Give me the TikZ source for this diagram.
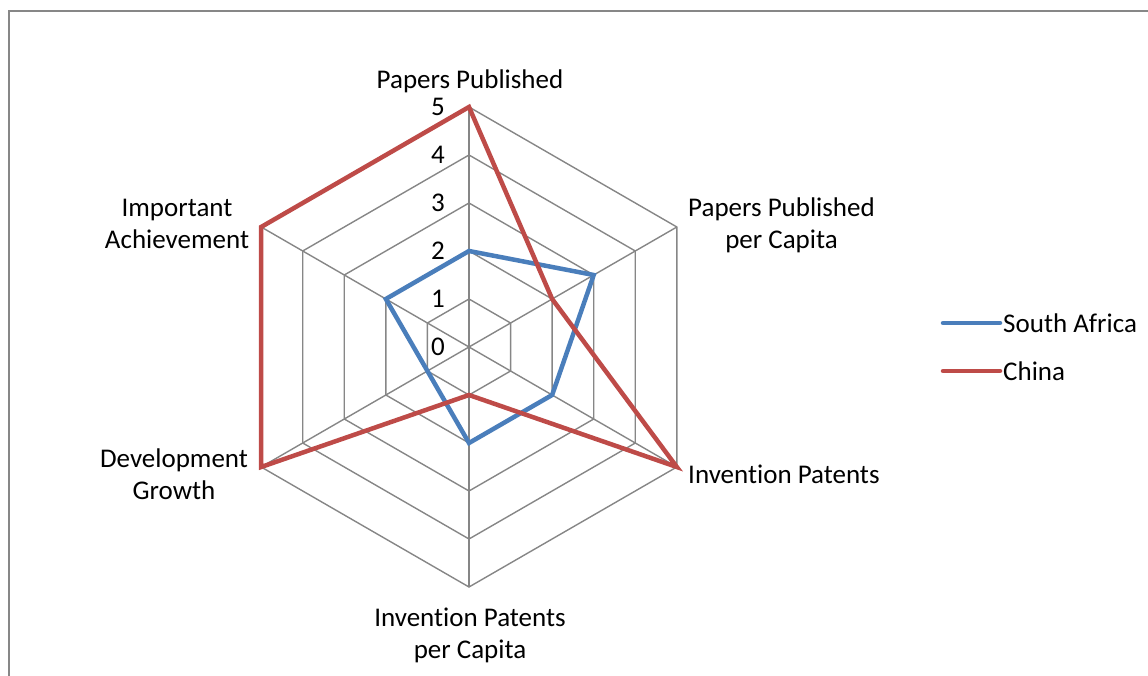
\documentclass[tikz,border=0pt]{standalone}
\usepackage{fontspec}
\setmainfont{Carlito}[Ligatures=NoCommon]
\definecolor{gridgray}{HTML}{868686}
\definecolor{framegray}{HTML}{878787}
\definecolor{sablue}{HTML}{4A7EBB}
\definecolor{cnred}{HTML}{BE4B48}
\begin{document}
\begin{tikzpicture}[x=1pt,y=1pt,
  gridline/.style={draw=gridgray, line width=1.4pt},
  axisline/.style={draw=gridgray, line width=2pt},
  series/.style={line width=4.5pt, line join=miter},
  lbl/.style={font=\fontsize{27}{32}\selectfont, inner sep=0pt, align=center},
  tick/.style={font=\fontsize{27}{32}\selectfont, inner sep=0pt, anchor=east},
]
\useasboundingbox (0,0) rectangle (1148,675);
% outer chart frame
\draw[framegray, line width=2pt] (8.5,-5) -- (8.5,663.5) -- (1155,663.5);

\begin{scope}[shift={(469,328)}]
  % concentric hexagon rings, one per unit
  \foreach \r in {1,...,5}
    \draw[gridline] (90:{48*\r}) -- (30:{48*\r}) -- (-30:{48*\r}) -- (-90:{48*\r})
      -- (210:{48*\r}) -- (150:{48*\r}) -- cycle;
  % spokes
  \foreach \a in {30,-30,-90,210,150}
    \draw[gridline] (0,0) -- (\a:240);
  \draw[axisline] (0,0) -- (90:240);
  % value axis ticks
  \foreach \v in {0,...,5}
    \node[tick] (tick\v) at (-24,{48*\v}) {\v};

  % South Africa
  \draw[series, sablue] (90:96) -- (30:144) -- (-30:96) -- (-90:96)
    -- (210:48) -- (150:96) -- cycle;
  % China
  \draw[series, cnred] (90:240) -- (30:96) -- (-30:240) -- (-90:48)
    -- (210:240) -- (150:240) -- cycle;
\end{scope}

% category labels
\node[lbl] (pp)   at (470,594) {Papers Published};
\node[lbl, anchor=west] (ppc) at (688,450) {Papers Published\\per Capita};
\node[lbl, anchor=west] (ip)  at (688,201) {Invention Patents};
\node[lbl] (ipc)  at (470,40)  {Invention Patents\\per Capita};
\node[lbl] (dg)   at (174,201) {Development\\Growth};
\node[lbl] (ia)   at (177,451) {Important\\Achievement};

% legend
\coordinate (sa1) at (943,352);
\coordinate (sa2) at (1000,352);
\coordinate (cn1) at (943,304);
\coordinate (cn2) at (1000,304);
\draw[sablue, line width=4.5pt, line cap=round] (sa1) -- (sa2);
\draw[cnred, line width=4.5pt, line cap=round] (cn1) -- (cn2);
\node[lbl, anchor=west] (lsa) at (1003,352) {South Africa};
\node[lbl, anchor=west] (lcn) at (1003,304) {China};
\end{tikzpicture}
\end{document}
